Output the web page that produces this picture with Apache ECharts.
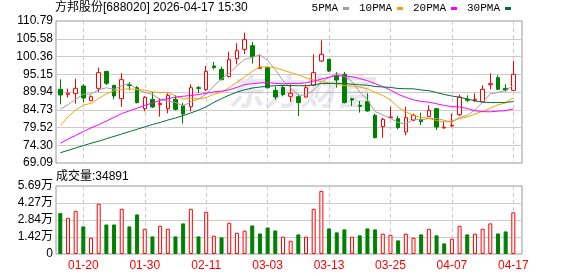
<!DOCTYPE html>
<html><head><meta charset="utf-8">
<script src="https://cdn.jsdelivr.net/npm/echarts@6/dist/echarts.min.js"></script>
<style>html,body{margin:0;padding:0;background:#fff}#c{width:578px;height:276px}</style>
</head><body><div id="c"></div>
<script>
const STOCK_TITLE = '方邦股份[688020] 2026-04-17 15:30';
const VOLUME_LABEL = '成交量';
const WATERMARK = '东方财富';

const DATES = ['2026-01-15','2026-01-16','2026-01-19','2026-01-20','2026-01-21','2026-01-22','2026-01-23','2026-01-26','2026-01-27','2026-01-28',
'2026-01-29','2026-01-30','2026-02-02','2026-02-03','2026-02-04','2026-02-05','2026-02-06','2026-02-09','2026-02-10','2026-02-11',
'2026-02-12','2026-02-13','2026-02-24','2026-02-25','2026-02-26','2026-02-27','2026-03-02','2026-03-03','2026-03-04','2026-03-05',
'2026-03-06','2026-03-09','2026-03-10','2026-03-11','2026-03-12','2026-03-13','2026-03-16','2026-03-17','2026-03-18','2026-03-19',
'2026-03-20','2026-03-23','2026-03-24','2026-03-25','2026-03-26','2026-03-27','2026-03-30','2026-03-31','2026-04-01','2026-04-02',
'2026-04-03','2026-04-07','2026-04-08','2026-04-09','2026-04-10','2026-04-13','2026-04-14','2026-04-15','2026-04-16','2026-04-17'];

const OPEN  = [90.72,89.20,89.45,91.70,87.39,91.02,96.01,91.90,87.98,92.09, 91.21,85.05,87.79,86.22,85.05,87.79,86.02,85.63,91.21,90.63,
               97.58,96.60,94.44,99.73,102.47,103.55,96.89,97.09,90.43,91.31, 88.67,88.57,88.47,91.90,99.04,99.53,94.64,95.13,87.98,86.02,
               87.10,83.09,79.76,82.40,82.11,78.19,81.72,81.91,82.70,85.05, 79.40,79.96,83.28,87.79,87.49,87.00,92.09,94.15,91.02,90.43];
const CLOSE = [89.06,89.60,91.02,88.18,88.57,95.62,92.49,88.77,93.56,91.80, 86.81,88.37,85.54,86.61,88.96,84.85,83.48,91.21,91.02,96.01,
               97.09,93.56,99.43,102.08,105.31,100.32,97.18,91.21,88.47,89.16, 89.55,86.81,91.21,95.62,101.00,96.11,93.46,86.81,87.59,85.73,
               84.36,76.53,81.91,82.60,79.47,82.40,83.09,81.23,84.56,79.66, 79.60,80.15,88.47,87.49,87.79,90.72,92.39,90.72,90.53,95.13];
const LOW   = [86.32,88.28,86.51,86.81,87.30,89.94,92.00,87.79,85.63,90.43, 86.61,84.26,85.24,82.70,83.67,84.46,80.64,84.26,89.55,90.23,
               96.60,93.37,94.25,98.07,101.10,98.26,96.79,90.92,87.69,88.67, 87.00,82.89,88.28,91.70,98.75,95.81,91.21,86.61,85.83,83.87,
               84.17,76.33,76.53,82.21,78.98,77.22,81.33,80.25,82.60,78.78, 79.17,79.76,82.89,87.00,87.00,86.81,90.72,90.53,90.04,90.23];
const HIGH  = [93.66,90.92,93.86,92.19,88.96,97.09,96.11,91.90,95.42,92.88, 91.70,88.77,89.94,88.18,89.55,88.96,86.81,92.19,91.70,97.58,
               98.75,97.38,101.78,104.23,107.36,104.62,100.90,97.10,91.60,91.70, 92.19,89.26,92.19,101.00,105.11,99.60,95.81,95.81,88.28,87.30,
               89.55,83.58,82.40,85.63,82.89,85.63,83.58,83.87,86.02,85.05, 81.33,83.58,89.16,88.96,89.55,91.90,95.42,94.83,92.19,99.04];
const PREV_CLOSE = 90.5;

const VOLUME = [34200,30300,36100,23100,13600,42000,24700,24700,37800,23100, 33100,21100,14700,23600,21100,14700,25600,37800,14700,35300,
                15300,13900,26100,17800,19500,23900,17200,22200,19700,14500, 11100,16400,14500,37800,52800,21400,18100,20600,14500,15600,
                21400,20600,17000,16100,11400,17000,13600,16400,21100,15600, 8900,12800,23600,16400,17000,21100,25600,17200,18900,34891];

const MA5  = [84.85,86.20,87.80,89.30,89.29,90.60,91.18,90.73,91.80,92.45, 90.69,89.86,89.22,87.83,87.26,86.87,85.89,87.02,87.90,89.31,
              91.76,93.78,95.42,97.63,99.49,100.14,100.86,99.22,96.50,93.27, 91.11,89.04,89.04,90.47,92.84,94.15,95.48,94.60,92.99,89.94,
              87.59,84.20,83.22,82.23,80.97,80.58,81.89,81.76,82.15,82.19, 81.63,81.04,82.49,83.08,84.73,86.92,89.37,89.82,90.43,91.90];
const MA10 = [80.10,82.60,84.60,86.10,86.60,88.00,89.40,90.30,90.70,90.87, 90.64,90.52,89.97,89.81,89.85,88.78,87.88,88.12,87.87,88.29,
              89.31,89.83,91.22,92.77,94.40,95.95,97.32,97.32,97.07,96.38, 95.63,94.95,94.13,93.48,93.05,92.63,92.26,91.82,91.73,91.39,
              90.87,89.84,88.91,87.61,85.46,84.09,83.05,82.49,82.19,81.58, 81.10,81.46,82.12,82.61,83.44,84.27,85.20,86.15,86.75,88.30];
const MA20 = [74.90,76.10,77.20,78.30,79.40,80.30,81.40,82.50,83.60,84.40, 85.20,86.00,86.70,87.50,88.00,88.40,88.70,88.90,89.20,89.58,
              89.98,90.18,90.60,91.29,92.13,92.36,92.60,92.72,92.47,92.33, 92.47,92.39,92.68,93.13,93.73,94.29,94.79,94.57,94.40,93.89,
              93.25,92.40,91.52,90.55,89.26,88.36,87.65,87.16,86.96,86.49, 85.99,85.65,85.52,85.11,84.45,84.18,84.13,84.32,84.47,84.94];
const MA30 = [72.10,72.80,73.50,74.20,74.90,75.50,76.20,76.90,77.60,78.30, 79.00,79.70,80.40,81.00,81.70,82.30,83.00,83.80,84.60,85.60,
              86.90,88.00,89.00,89.90,90.60,91.10,91.40,91.60,91.80,91.84, 91.86,91.77,91.77,92.02,92.44,92.45,92.49,92.42,92.22,92.02,
              91.94,91.54,91.42,91.29,90.97,90.89,90.88,90.54,90.33,89.78, 89.21,88.76,88.39,87.91,87.32,87.00,86.84,86.83,86.90,87.10];
const MA_NAMES = ['5PMA','10PMA','20PMA','30PMA'];

const PRICE_TICKS = ['69.09','74.30','79.52','84.73','89.94','95.15','100.36','105.58','110.79'];
const VOL_TICKS = ['0','1.42万','2.84万','4.27万','5.69万'];
const LABEL_STEP = 8;

// ---------- build ----------
const N = DATES.length;
const idx = DATES.map((_, i) => i);
const labelIdx = idx.filter(i => (N - 1 - i) % LABEL_STEP === 0);
const parseWan = s => s.endsWith('万') ? parseFloat(s) * 10000 : parseFloat(s);
const pMin = parseFloat(PRICE_TICKS[0]);
const pMax = parseFloat(PRICE_TICKS[PRICE_TICKS.length - 1]);
const pStep = (pMax - pMin) / (PRICE_TICKS.length - 1);
const vMax = parseWan(VOL_TICKS[VOL_TICKS.length - 1]);
const vStep = vMax / (VOL_TICKS.length - 1);

const SANS = '"Liberation Sans", Arial, "Noto Sans CJK SC", sans-serif';
const UP = '#ff0000', DOWN = '#008000';
const MA_COLORS = ['#a0a0a0', '#f5a300', '#ff00ff', '#00703a'];
const X_MIN = -0.56, X_MAX = N + 0.13;

const candleData = idx.map(i => [i, OPEN[i], CLOSE[i], LOW[i], HIGH[i]]);
const volData = idx.map(i => {
  const up = CLOSE[i] >= (i ? CLOSE[i - 1] : PREV_CLOSE);
  return {
    value: [i, VOLUME[i]],
    itemStyle: up ? { color: '#fff', borderColor: UP, borderWidth: 1 }
                  : { color: DOWN, borderColor: DOWN, borderWidth: 1 }
  };
});
const maSeries = [MA5, MA10, MA20, MA30].map((arr, k) => ({
  name: MA_NAMES[k], type: 'line', xAxisIndex: 0, yAxisIndex: 0,
  data: idx.map(i => [i, arr[i]]), showSymbol: false, symbol: 'none',
  lineStyle: { width: 1, color: MA_COLORS[k] }, itemStyle: { color: MA_COLORS[k] },
  z: 3, silent: true
}));

function xAxisCfg(gridIndex, withLabels) {
  return {
    type: 'value', gridIndex, min: X_MIN, max: X_MAX,
    axisLine: { show: false },
    axisTick: { show: false, customValues: labelIdx },
    axisLabel: {
      show: withLabels, customValues: labelIdx, showMinLabel: true, showMaxLabel: true,
      formatter: v => (DATES[Math.round(v)] || '').slice(5),
      color: UP, fontSize: 12, fontFamily: SANS, margin: 6
    },
    splitLine: { show: true, lineStyle: { color: '#cccccc', type: [4, 3], width: 1 } }
  };
}

const chart = echarts.init(document.getElementById('c'), null, { renderer: 'canvas' });
chart.setOption({
  animation: false,
  backgroundColor: '#ffffff',
  title: [
    { text: STOCK_TITLE, left: 55, top: 2, padding: 0,
      textStyle: { fontSize: 12, fontWeight: 'normal', color: '#000', fontFamily: SANS } },
    { text: VOLUME_LABEL + ':' + VOLUME[N - 1], left: 56, top: 171, padding: 0,
      textStyle: { fontSize: 12, fontWeight: 'normal', color: '#000', fontFamily: SANS } }
  ],
  legend: {
    data: MA_NAMES, right: 67, top: 3, padding: 0, align: 'right', icon: 'rect',
    itemWidth: 6, itemHeight: 3, itemGap: 10, selectedMode: false,
    textStyle: { fontSize: 11, color: '#000', fontFamily: '"Liberation Mono", monospace' }
  },
  graphic: [{
    type: 'text', left: 228, top: 73, z: 1, silent: true,
    style: { text: WATERMARK, fontSize: 36, fontWeight: 'bold', fontStyle: 'italic',
             fontFamily: '"Noto Sans CJK SC", sans-serif', fill: 'rgba(170,170,190,0.28)' }
  }],
  grid: [
    { left: 56, top: 21, width: 466, height: 142, show: true, borderColor: '#999', borderWidth: 1, backgroundColor: 'transparent' },
    { left: 56, top: 186, width: 466, height: 68, show: true, borderColor: '#999', borderWidth: 1, backgroundColor: 'transparent' }
  ],
  xAxis: [xAxisCfg(0, false), xAxisCfg(1, true)],
  yAxis: [
    { type: 'value', gridIndex: 0, min: pMin, max: pMax, interval: pStep, scale: true,
      axisLine: { show: false }, axisTick: { show: false },
      axisLabel: { formatter: v => PRICE_TICKS[Math.round((v - pMin) / pStep)] || '', color: '#000', fontSize: 12, fontFamily: SANS, margin: 3 },
      splitLine: { show: true, showMinLine: false, showMaxLine: false, lineStyle: { color: '#cccccc', width: 1 } } },
    { type: 'value', gridIndex: 1, min: 0, max: vMax, interval: vStep,
      axisLine: { show: false }, axisTick: { show: false },
      axisLabel: { formatter: v => VOL_TICKS[Math.round(v / vStep)] || '', color: '#000', fontSize: 12, fontFamily: SANS, margin: 3 },
      splitLine: { show: true, showMinLine: false, showMaxLine: false, lineStyle: { color: '#cccccc', width: 1 } } }
  ],
  series: [
    { name: 'K', type: 'candlestick', xAxisIndex: 0, yAxisIndex: 0, data: candleData,
      encode: { x: 0, y: [1, 2, 3, 4] }, barWidth: 4, z: 2, silent: true,
      itemStyle: { color: '#fff', color0: DOWN, borderColor: UP, borderColor0: DOWN, borderWidth: 1 } },
    ...maSeries,
    { name: 'VOL', type: 'bar', xAxisIndex: 1, yAxisIndex: 1, data: volData, barWidth: 4, silent: true }
  ]
});
</script></body></html>
